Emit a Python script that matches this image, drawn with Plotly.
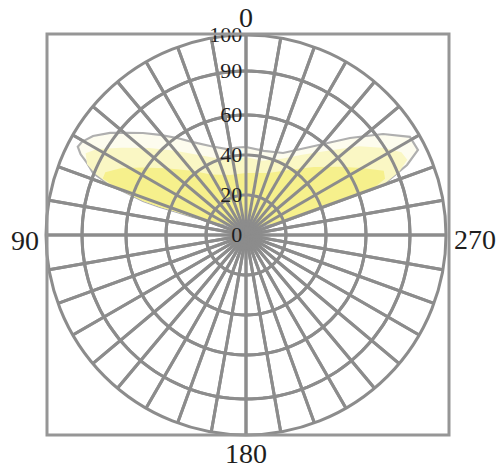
import plotly.graph_objects as go

# Outline curve points (degrees CCW from top, intensity)
theta_outline = [0, 6, 12.5, 22, 29.7, 35.4, 40.7, 45.3, 49.4, 53.1, 57.1, 60.4, 62.3, 64, 65.6, 67.9, 69.8, 70.6,
                 71.7, 72, 71.6, 71.2, 68.7, 62, 50, 90, 180, 270, 310, 298, 289.4, 289.4, 290.1, 290.1, 293.5,
                 296.3, 300.9, 306.4, 313, 321.7, 335.7, 348, 360]
r_outline = [44, 44, 44, 48, 53.5, 59.5, 66, 72.5, 78.4, 85, 91.1, 94.3, 95, 92, 87.3, 82.5, 72.4, 63.1,
             54.2, 45.2, 36.4, 28, 19.3, 10.7, 3, 1, 1, 1, 3, 10.7, 19.6, 37.6, 55.4, 72.9, 87.8,
             95.9, 95.5, 85.1, 71.1, 57, 45, 43, 44]

# Pale-yellow middle band of the fill
theta_mid = [0, 15, 30, 40, 48, 55, 60, 63, 66, 68, 69.8, 70.6, 71.7, 72, 71.6, 71.2, 68.7, 62, 50, 90, 180, 270,
             310, 298, 289.4, 289.4, 290.1, 290.1, 292.5, 295, 298, 302, 308, 315, 325, 335, 348, 360]
r_mid = [39, 39, 46, 55, 65, 76, 86, 90, 87, 81, 72.4, 63.1, 54.2, 45.2, 36.4, 28, 19.3, 10.7, 3, 1, 1, 1,
         3, 10.7, 19.6, 37.6, 55.4, 72.9, 83, 89, 88, 82, 72, 60, 49, 42, 38, 39]

# Brightest yellow core of the fill
theta_core = [0, 15, 30, 40, 50, 57, 62, 66, 68.5, 69.8, 70.6, 71.7, 72, 71.6, 71.2, 68.7, 62, 50, 90, 180, 270,
              310, 298, 289.4, 289.4, 290.1, 290.5, 292, 295, 300, 306, 315, 325, 340, 360]
r_core = [31, 31, 35, 42, 52, 62, 71, 77, 77, 70, 63.1, 54.2, 45.2, 36.4, 28, 19.3, 10.7, 3, 1, 1, 1,
          3, 10.7, 19.6, 37.6, 55.4, 69, 75, 76, 67, 58, 48, 40, 33, 31]

angle_ticks = list(range(0, 360, 10))
angle_label_values = [0, 90, 180, 270]
radial_ticks = [0, 20, 40, 60, 82, 100]
radial_labels = ["0", "20", "40", "60", "90", "100"]

GRID = "rgb(140,140,140)"
W, H = 499, 471

fig = go.Figure()
fig.add_trace(go.Scatterpolar(
    r=r_outline, theta=theta_outline, mode="lines", fill="toself",
    fillcolor="rgb(253,252,238)",
    line=dict(color="rgb(175,175,175)", width=2.2), hoverinfo="skip"))
fig.add_trace(go.Scatterpolar(
    r=r_mid, theta=theta_mid, mode="lines", fill="toself",
    fillcolor="rgb(250,247,196)", line=dict(width=0), hoverinfo="skip"))
fig.add_trace(go.Scatterpolar(
    r=r_core, theta=theta_core, mode="lines", fill="toself",
    fillcolor="rgb(246,240,140)", line=dict(width=0), hoverinfo="skip"))

# grid redrawn on top of the fill (from the tick arrays)
spoke_r, spoke_t = [], []
for a in angle_ticks:
    spoke_r += [0, 100, None]
    spoke_t += [a, a, None]
ring_r, ring_t = [], []
circle_t = list(range(0, 361, 2))
for rv in radial_ticks[1:-1]:
    ring_r += [rv] * len(circle_t) + [None]
    ring_t += circle_t + [None]
fig.add_trace(go.Scatterpolar(r=spoke_r, theta=spoke_t, mode="lines",
                              line=dict(color=GRID, width=3), hoverinfo="skip"))
fig.add_trace(go.Scatterpolar(r=ring_r, theta=ring_t, mode="lines",
                              line=dict(color=GRID, width=3), hoverinfo="skip"))

# angular labels placed just outside the circle (screen pixels, anchor)
label_pos = {0: (246, 0, "top"), 90: (25, 240, "middle"),
             180: (246, 453, "middle"), 270: (475, 239, "middle")}
annotations = []
for a in angle_label_values:
    sx, sy, ya = label_pos[a]
    annotations.append(dict(
        text=str(a), x=sx / W, y=1 - sy / H, xref="paper", yref="paper",
        xanchor="center", yanchor=ya, showarrow=False,
        font=dict(size=28, family="Liberation Serif", color="rgb(30,30,30)")))

fig.update_layout(
    width=W, height=H,
    margin=dict(l=0, r=0, t=0, b=0),
    paper_bgcolor="white", plot_bgcolor="white",
    showlegend=False,
    font=dict(family="Liberation Serif", color="rgb(30,30,30)"),
    polar=dict(
        domain=dict(x=[46 / W, 446 / W], y=[1 - 435 / H, 1 - 35 / H]),
        bgcolor="white",
        angularaxis=dict(
            rotation=90, direction="counterclockwise",
            tickmode="array", tickvals=angle_ticks, showticklabels=False,
            showgrid=True, gridcolor=GRID, gridwidth=3,
            showline=True, linecolor=GRID, linewidth=3,
            ticks="",
        ),
        radialaxis=dict(
            range=[0, 100], angle=90, side="counterclockwise",
            tickmode="array", tickvals=radial_ticks, ticktext=radial_labels,
            showgrid=True, gridcolor=GRID, gridwidth=3,
            showline=False, ticks="",
            tickfont=dict(size=22, family="Liberation Serif", color="rgb(30,30,30)"),
            tickangle=90,
        ),
    ),
    annotations=annotations,
    shapes=[dict(type="rect", xref="paper", yref="paper",
                 x0=47 / W, x1=449 / W, y0=1 - 435 / H, y1=1 - 34 / H,
                 line=dict(color="rgb(150,150,150)", width=3))],
)

fig.write_html("out.html", config={"displayModeBar": False},
               post_script="document.body.style.margin='0px';")
